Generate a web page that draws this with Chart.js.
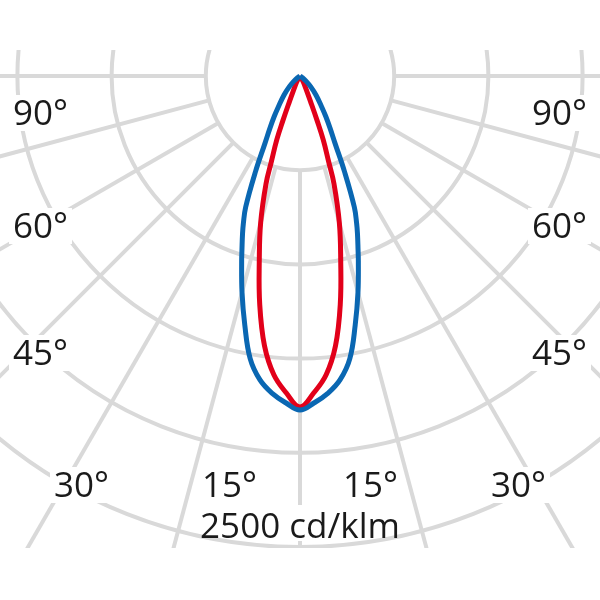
<!DOCTYPE html>
<html>
<head>
<meta charset="utf-8">
<script src="https://cdn.jsdelivr.net/npm/chart.js@4"></script>
<style>
  html, body { margin: 0; padding: 0; background: #fff; }
  #wrap { width: 600px; height: 600px; }
</style>
</head>
<body>
<div id="wrap"><canvas id="polar" width="600" height="600"></canvas></div>
<script>
// gamma angles (deg from nadir), curve is symmetric
const angles = [0, 2.5, 5, 7.5, 10, 12.5, 15, 17.5, 18.5, 20, 21, 22.5, 25, 27.5, 30, 32.5, 35, 40, 45, 50, 55, 60];
const blueValues = [1773, 1736, 1691, 1627, 1523, 1354, 1189, 1030, 971, 892, 839, 754, 557, 403, 318, 255, 202, 133, 80, 42, 16, 0];
const redValues  = [1757, 1683, 1592, 1444, 1231, 998, 807, 600, 478, 361, 255, 143, 74, 48, 27, 11, 0, 0, 0, 0, 0, 0];

const rings = [500, 1000, 1500, 2000, 2500];
const spokes = [0, 15, 30, 45, 60, 75, 90];
const sideLabels = ['90°', '60°', '45°'];
const bottomLabels = ['30°', '15°'];
const unitLabel = '2500 cd/klm';

const u = 500 / 94.2; // cd/klm per pixel

function polar(deg, r) {
  const a = deg * Math.PI / 180;
  return { x: r * Math.sin(a), y: -r * Math.cos(a) };
}

function toPoints(vals) {
  const pts = [];
  for (let i = angles.length - 1; i >= 0; i--) pts.push(polar(-angles[i], vals[i]));
  for (let i = 1; i < angles.length; i++) pts.push(polar(angles[i], vals[i]));
  return pts;
}

function knockText(ctx, text, x, y, align) {
  ctx.textAlign = align;
  const w = ctx.measureText(text).width;
  const left = align === 'left' ? x : align === 'right' ? x - w : x - w / 2;
  ctx.fillStyle = '#fff';
  ctx.fillRect(left - 4, y - 30, w + 8, 36);
  ctx.fillStyle = '#1a1a1a';
  ctx.fillText(text, x, y);
}

const polarGrid = {
  id: 'polarGrid',
  beforeDatasetsDraw(chart) {
    const { ctx, scales: { x, y } } = chart;
    const cx = x.getPixelForValue(0), cy = y.getPixelForValue(0);
    const k = (x.getPixelForValue(1000) - cx) / 1000;

    ctx.save();
    ctx.beginPath();
    ctx.rect(0, 50, chart.width, 498);
    ctx.clip();
    ctx.strokeStyle = '#d9d9d9';
    ctx.lineWidth = 4;
    rings.forEach(r => {
      ctx.beginPath();
      ctx.arc(cx, cy, r * k, 0, Math.PI * 2);
      ctx.stroke();
    });
    spokes.forEach(d => [-1, 1].forEach(s => {
      const a = d * Math.PI / 180;
      ctx.beginPath();
      ctx.moveTo(cx + s * Math.sin(a) * rings[0] * k, cy + Math.cos(a) * rings[0] * k);
      ctx.lineTo(cx + s * Math.sin(a) * 900, cy + Math.cos(a) * 900);
      ctx.stroke();
    }));
    ctx.restore();

    ctx.save();
    ctx.font = '35px "Open Sans", sans-serif';
    ctx.textBaseline = 'alphabetic';
    const sideY = [125, 238, 365];
    sideLabels.forEach((t, i) => {
      knockText(ctx, t, 13, sideY[i], 'left');
      knockText(ctx, t, 587, sideY[i], 'right');
    });
    const bottomX = [54, 202];
    bottomLabels.forEach((t, i) => {
      knockText(ctx, t, bottomX[i], 497, 'left');
      knockText(ctx, t, 600 - bottomX[i], 497, 'right');
    });
    ctx.fillStyle = '#fff';
    ctx.fillRect(241, 505, 117, 36);
    ctx.fillStyle = '#1a1a1a';
    ctx.textAlign = 'center';
    ctx.fillText(unitLabel, 300, 538);
    ctx.restore();
  }
};

new Chart(document.getElementById('polar'), {
  type: 'scatter',
  data: {
    datasets: [
      { data: toPoints(blueValues), borderColor: '#0a67b2', borderWidth: 5, showLine: true, pointRadius: 0, tension: 0.4, borderJoinStyle: 'round' },
      { data: toPoints(redValues), borderColor: '#e2001a', borderWidth: 5, showLine: true, pointRadius: 0, tension: 0.4, borderJoinStyle: 'round' }
    ]
  },
  options: {
    responsive: false,
    animation: false,
    layout: { padding: 0 },
    plugins: { legend: { display: false }, tooltip: { enabled: false } },
    scales: {
      x: { display: false, min: -300 * u, max: 300 * u },
      y: { display: false, min: -524 * u, max: 76 * u }
    }
  },
  plugins: [polarGrid]
});
</script>
</body>
</html>
